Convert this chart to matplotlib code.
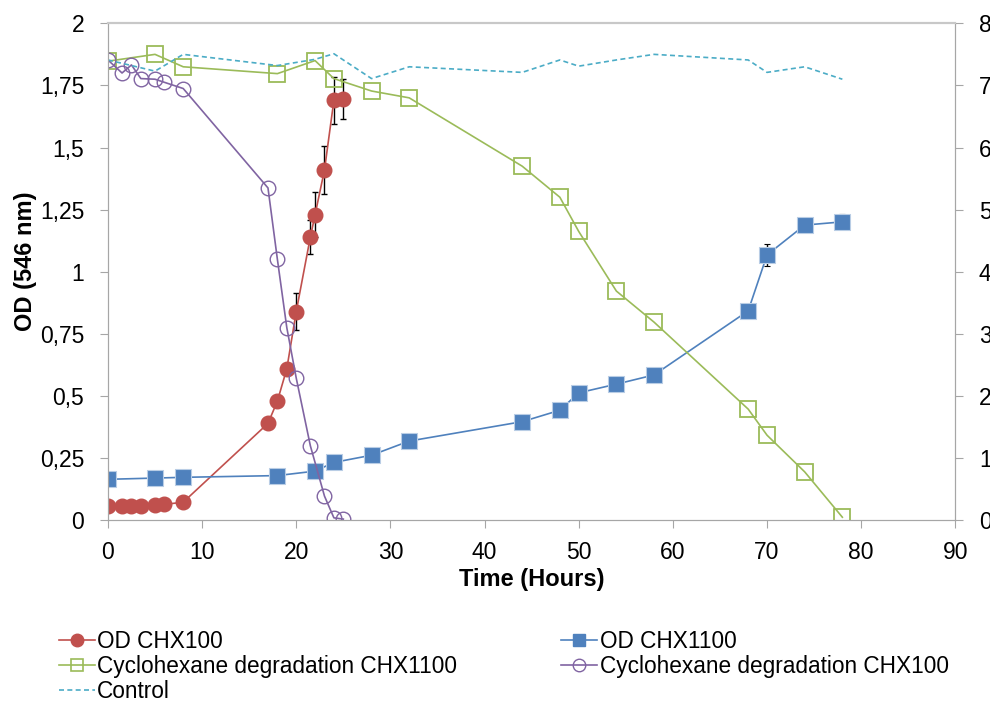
import matplotlib
matplotlib.use("Agg")
import matplotlib.pyplot as plt
from matplotlib.lines import Line2D
import numpy as np

# data
# OD of culture CHX100 (left axis)
t_od100 = [0, 1.5, 2.5, 3.5, 5, 6, 8, 17, 18, 19, 20, 21.5, 22, 23, 24, 25]
od100 = [0.057, 0.057, 0.057, 0.057, 0.062, 0.064, 0.073, 0.39, 0.48, 0.61, 0.84,
         1.14, 1.23, 1.41, 1.69, 1.695]
od100_err = [0, 0, 0, 0, 0, 0, 0, 0, 0, 0, 0.075, 0.07, 0.09, 0.095, 0.095, 0.08]

# OD of culture CHX1100 (left axis)
t_1100 = [0, 5, 8, 18, 22, 24, 28, 32, 44, 48, 50, 54, 58, 68, 70, 74, 78]
od1100 = [0.165, 0.17, 0.173, 0.18, 0.198, 0.233, 0.262, 0.319, 0.397, 0.443,
          0.513, 0.548, 0.585, 0.843, 1.068, 1.188, 1.201]
od1100_err = [0, 0, 0, 0, 0, 0, 0, 0, 0, 0, 0, 0, 0, 0, 0.045, 0, 0.03]

# cyclohexane degradation (right axis)
deg1100 = [7.39, 7.5, 7.3, 7.19, 7.4, 7.11, 6.91, 6.8, 5.7, 5.2, 4.65, 3.69, 3.19,
           1.79, 1.37, 0.78, 0.05]
control = [7.41, 7.23, 7.5, 7.32, 7.42, 7.51, 7.11, 7.3, 7.21, 7.41, 7.31, 7.41, 7.5,
           7.41, 7.21, 7.3, 7.1]
t_deg100 = [0, 1.5, 2.5, 3.5, 5, 6, 8, 17, 18, 19, 20, 21.5, 23, 24, 25]
deg100 = [7.41, 7.2, 7.33, 7.11, 7.1, 7.05, 6.95, 5.35, 4.2, 3.1, 2.29, 1.2, 0.39,
          0.04, 0.02]

left_ticks = [0, 0.25, 0.5, 0.75, 1, 1.25, 1.5, 1.75, 2]
left_labels = ["0", "0,25", "0,5", "0,75", "1", "1,25", "1,5", "1,75", "2"]

plt.rcParams["font.family"] = ["Liberation Sans", "DejaVu Sans"]

red = "#C0504D"
blue = "#4F81BD"
green = "#9BBB59"
purple = "#8064A2"
cyan = "#4BACC6"
axis_grey = "#A6A6A6"

fig = plt.figure(figsize=(9.9, 7.06), dpi=100)
ax = fig.add_axes([0.109, 0.263, 0.856, 0.704])
ax2 = ax.twinx()

# primary axis: optical density
ax.errorbar(t_od100, od100, yerr=od100_err, color=red, lw=1.2, marker="o",
            ms=10.5, mec=red, mfc=red, ecolor="black", elinewidth=1,
            capsize=2.5, capthick=1)
ax.errorbar(t_1100, od1100, yerr=od1100_err, color=blue, lw=1.2, marker="s",
            ms=11, mec="#B9CDE5", mew=0.8, mfc=blue, ecolor="black",
            elinewidth=1, capsize=2.5, capthick=1)

# secondary axis: cyclohexane
ax2.plot(t_1100, deg1100, color=green, lw=1.2, marker="s", ms=11,
         mfc="none", mec=green, mew=1.3)
ax2.plot(t_deg100, deg100, color=purple, lw=1.2, marker="o", ms=10.5,
         mfc="none", mec=purple, mew=1.0)
ax2.plot(t_1100, control, color=cyan, lw=1.2, ls=(0, (3, 2)))

ax.set_xlim(0, 90)
ax.set_ylim(0, 2)
ax2.set_ylim(0, 8)
ax.set_xticks(np.arange(0, 91, 10))
ax.set_yticks(left_ticks)
ax.set_yticklabels(left_labels)
ax2.set_yticks(np.arange(0, 9, 1))

for a in (ax, ax2):
    for side in ("left", "right", "bottom"):
        a.spines[side].set_color(axis_grey)
    a.spines["top"].set_color("#C8C8C8")
    a.spines["top"].set_linewidth(1.5)
    a.tick_params(colors=axis_grey, labelcolor="black", labelsize=16.5,
                  length=6, direction="out")
ax.tick_params(axis="y", pad=11)
ax.tick_params(axis="x", pad=9)
ax2.tick_params(axis="y", pad=11)

ax.set_xlabel("Time (Hours)", fontsize=17, fontweight="bold", labelpad=3)
ax.set_ylabel("OD (546 nm)", fontsize=17, fontweight="bold")
ax.yaxis.set_label_coords(-0.084, 0.521)

# legend handles without error bars
h_red = Line2D([], [], color=red, lw=1.2, marker="o", ms=9, mfc=red, mec=red)
h_blue = Line2D([], [], color=blue, lw=1.2, marker="s", ms=9, mfc=blue, mec=blue)
h_green = Line2D([], [], color=green, lw=1.2, marker="s", ms=9, mfc="none",
                 mec=green, mew=1.2)
h_purple = Line2D([], [], color=purple, lw=1.2, marker="o", ms=9, mfc="none",
                  mec=purple, mew=1.0)
h_ctrl = Line2D([], [], color=cyan, lw=1.2, ls=(0, (3, 2)))

handles = [h_red, h_green, h_ctrl, h_blue, h_purple]
labels = ["OD CHX100", "Cyclohexane degradation CHX1100", "Control",
          "OD CHX1100", "Cyclohexane degradation CHX100"]
fig.legend(handles, labels, loc="upper left", bbox_to_anchor=(0.05, 0.121),
           ncol=2, frameon=False, handlelength=1.6, handletextpad=0.1,
           columnspacing=4.6, labelspacing=0.1, borderaxespad=0,
           prop={"size": 16.3})

fig.savefig("out.png", dpi=100)
